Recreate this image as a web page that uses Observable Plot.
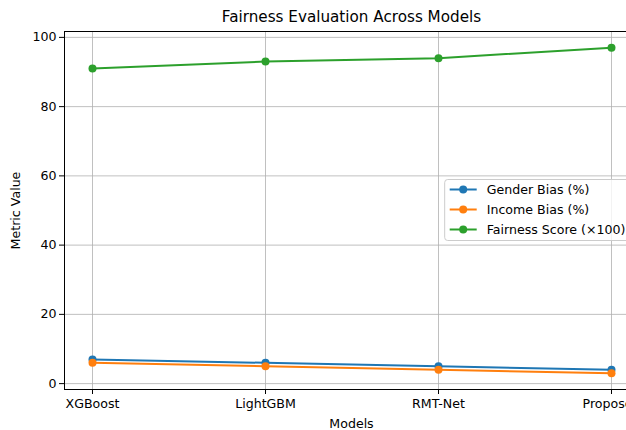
<!DOCTYPE html>
<html>
<head>
<meta charset="utf-8">
<script src="https://cdn.jsdelivr.net/npm/d3@7"></script>
<script src="https://cdn.jsdelivr.net/npm/@observablehq/plot@0.6"></script>
<style>
  body { margin: 0; background: #fff; }
  #chart { width: 626px; height: 430px; overflow: hidden; position: relative; }
</style>
</head>
<body>
<div id="chart"></div>
<script>
// Models compared
const models = ["XGBoost", "LightGBM", "RMT-Net", "Proposed"];
// Metric values per model
const genderBias = [7, 6, 5, 4];
const incomeBias = [6, 5, 4, 3];
const fairnessScore = [91, 93, 94, 97];
// Series labels and colours
const seriesNames = ["Gender Bias (%)", "Income Bias (%)", "Fairness Score (×100)"];
const seriesColors = ["#1f77b4", "#ff7f0e", "#2ca02c"];
const yTicks = [0, 20, 40, 60, 80, 100];
const chartTitle = "Fairness Evaluation Across Models";

const seriesValues = [genderBias, incomeBias, fairnessScore];
const rows = seriesNames.flatMap((s, si) =>
  models.map((m, i) => ({ series: s, model: m, value: seriesValues[si][i] }))
);

const W = 638, H = 430;
const mL = 64, mR = 0, mT = 31, mB = 41;
const font = "DejaVu Sans, sans-serif";
const fontPx = 12.6;

const color = { domain: seriesNames, range: seriesColors };

const plot = Plot.plot({
  width: W,
  height: H,
  marginLeft: mL,
  marginRight: mR,
  marginTop: mT,
  marginBottom: mB,
  style: { maxWidth: "none", background: "white", fontFamily: font, fontSize: fontPx + "px", color: "#000" },
  x: { type: "point", domain: models, padding: 0.15 },
  y: { domain: [-1.7, 101.7] },
  color,
  marks: [
    Plot.gridX(models, { stroke: "#b0b0b0", strokeOpacity: 1, strokeWidth: 0.8 }),
    Plot.gridY(yTicks, { stroke: "#b0b0b0", strokeOpacity: 1, strokeWidth: 0.8 }),
    Plot.line(rows, { x: "model", y: "value", z: "series", stroke: "series", strokeWidth: 2 }),
    Plot.dot(rows, { x: "model", y: "value", fill: "series", r: 4 }),
    Plot.frame({ stroke: "#000", strokeWidth: 1 }),
    Plot.axisX({ tickSize: 5, tickPadding: 5, label: "Models", labelAnchor: "center", labelArrow: "none", labelOffset: 38, fontSize: fontPx }),
    Plot.axisY(yTicks, { tickSize: 5, tickPadding: 3, label: "Metric Value", labelAnchor: "center", labelArrow: "none", labelOffset: 53, fontSize: fontPx }),
    Plot.text([chartTitle], { frameAnchor: "top", dy: -20, fontSize: 15.2, fill: "#000" })
  ]
});

// Legend box placed at the centre-right of the frame
const svg = d3.select(plot);
const boxRight = W - mR - 0.5 * fontPx;
const boxW = 187, rowGap = 20;
const boxH = rowGap * seriesNames.length + 1;
const boxLeft = boxRight - boxW;
const cy = (mT + (H - mB)) / 2;
const boxTop = cy - boxH / 2;
const lg = svg.append("g").attr("font-family", font).attr("font-size", fontPx).attr("text-anchor", "start");
lg.append("rect")
  .attr("x", boxLeft).attr("y", boxTop).attr("width", boxW).attr("height", boxH)
  .attr("rx", 3).attr("fill", "white").attr("fill-opacity", 0.8)
  .attr("stroke", "#cccccc").attr("stroke-width", 1);
const items = lg.selectAll("g.item").data(seriesNames).join("g")
  .attr("transform", (d, i) => `translate(${boxLeft + 5},${boxTop + 10 + i * rowGap})`);
items.append("line").attr("x1", 0).attr("x2", 27).attr("stroke", (d, i) => seriesColors[i]).attr("stroke-width", 2);
items.append("circle").attr("cx", 13.5).attr("r", 4).attr("fill", (d, i) => seriesColors[i]);
items.append("text").attr("x", 37).attr("dy", "0.35em").attr("fill", "#000").text(d => d);

document.getElementById("chart").append(plot);
</script>
</body>
</html>
